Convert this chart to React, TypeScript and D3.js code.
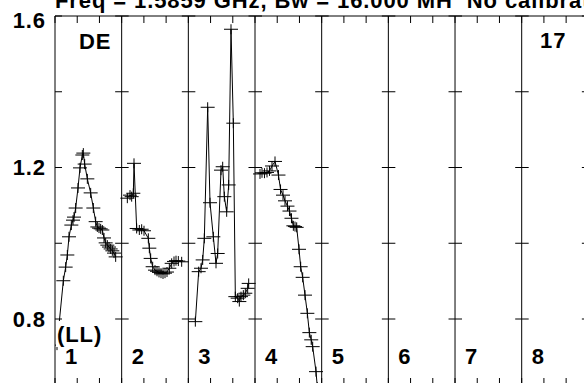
import React from 'react';
import * as d3 from 'd3';

const W = 584;
const H = 383;

const titleText = 'Freq = 1.5859 GHz, Bw = 16.000 MH  No calibration';
const sourceLabel = 'DE';
const scanLabel = '17';
const polLabel = '(LL)';
const panelLabels = ['1', '2', '3', '4', '5', '6', '7', '8'];
const yTicks = [0.8, 1.0, 1.2, 1.4, 1.6];
const yLabels = [0.8, 1.2, 1.6];

// position inside each panel (0..1) and measured value
const p1Pos = [0.03, 0.125, 0.16, 0.185, 0.21, 0.245, 0.27, 0.285, 0.31, 0.345, 0.375, 0.41, 0.425, 0.445, 0.485, 0.535, 0.575, 0.61, 0.635, 0.66, 0.685, 0.71, 0.735, 0.76, 0.785, 0.81, 0.835, 0.86, 0.885, 0.91];
const p1Val = [0.731, 0.901, 0.937, 0.969, 1.017, 1.048, 1.061, 1.069, 1.093, 1.146, 1.199, 1.233, 1.238, 1.209, 1.17, 1.133, 1.093, 1.057, 1.043, 1.04, 1.038, 1.035, 1.014, 1.001, 0.995, 0.99, 0.985, 0.98, 0.974, 0.964];

const p2Pos = [0.085, 0.125, 0.15, 0.175, 0.185, 0.225, 0.265, 0.3, 0.335, 0.4, 0.415, 0.435, 0.465, 0.5, 0.53, 0.56, 0.59, 0.62, 0.65, 0.68, 0.715, 0.75, 0.785, 0.815, 0.85, 0.9];
const p2Val = [1.119, 1.127, 1.123, 1.132, 1.211, 1.039, 1.035, 1.037, 1.033, 1.013, 0.987, 0.96, 0.938, 0.929, 0.926, 0.923, 0.921, 0.919, 0.921, 0.924, 0.934, 0.947, 0.952, 0.954, 0.953, 0.951];

const p3Pos = [0.105, 0.155, 0.19, 0.215, 0.24, 0.29, 0.325, 0.375, 0.415, 0.44, 0.49, 0.515, 0.54, 0.575, 0.605, 0.64, 0.675, 0.705, 0.74, 0.765, 0.79, 0.825, 0.855, 0.89, 0.905];
const p3Val = [0.793, 0.925, 0.934, 0.956, 1.013, 1.359, 1.107, 1.017, 0.947, 0.973, 1.193, 1.202, 1.123, 1.083, 1.154, 1.565, 1.317, 0.859, 0.855, 0.846, 0.859, 0.863, 0.868, 0.881, 0.894];

const p4Pos = [0.075, 0.105, 0.142, 0.18, 0.217, 0.255, 0.3, 0.352, 0.383, 0.42, 0.45, 0.487, 0.517, 0.547, 0.575, 0.6, 0.625, 0.66, 0.685, 0.715, 0.75, 0.785, 0.815, 0.843, 0.865, 0.915, 0.935];
const p4Val = [1.183, 1.186, 1.185, 1.187, 1.191, 1.204, 1.216, 1.18, 1.142, 1.127, 1.112, 1.098, 1.085, 1.066, 1.046, 1.044, 1.042, 0.984, 0.938, 0.91, 0.863, 0.815, 0.764, 0.745, 0.727, 0.661, 0.62];

const panelData = [
  { pos: p1Pos, val: p1Val },
  { pos: p2Pos, val: p2Val },
  { pos: p3Pos, val: p3Val },
  { pos: p4Pos, val: p4Val },
];

export default function App() {
  const left = 55;
  const top = 16;
  const bottom = 385;
  const panelW = 66.67;
  const nPanels = 8;

  const x = d3.scaleLinear().domain([0, nPanels]).range([left, left + panelW * nPanels]);
  const y = d3.scaleLinear().domain([0.8, 1.6]).range([319, top]);

  const font = "'Liberation Sans', Arial, sans-serif";
  const fs = 22;
  const ls = 0.9;
  const xTicks = d3.range(0, nPanels * 3 + 1).map(i => i / 3);

  const series = panelData.map((p, i) =>
    p.pos.map((f, j) => ({ x: i + f, v: p.val[j] }))
  );

  const line = d3.line<{ x: number; v: number }>()
    .x(d => x(d.x))
    .y(d => y(d.v));

  return (
    <svg width={W} height={H} style={{ position: 'absolute', left: 0, top: 0, background: '#fff' }}>
      <defs>
        <clipPath id="plot">
          <rect x={left} y={top} width={panelW * nPanels} height={bottom - top} />
        </clipPath>
      </defs>

      {/* title, cut off at the top like the original */}
      <text x={left} y={7.5} fontFamily={font} fontWeight="bold" fontSize={fs} letterSpacing={ls}
        style={{ whiteSpace: 'pre' }}>{titleText}</text>

      {/* frame */}
      <line x1={left} x2={x(nPanels)} y1={top} y2={top} stroke="#000" />
      <line x1={left} x2={x(nPanels)} y1={bottom} y2={bottom} stroke="#000" />
      {xTicks.map((t, i) => (
        <g key={i}>
          <line x1={x(t)} x2={x(t)} y1={top} y2={top + 7} stroke="#000" />
          <line x1={x(t)} x2={x(t)} y1={bottom - 7} y2={bottom} stroke="#000" />
        </g>
      ))}

      {/* panel dividers with value ticks */}
      {d3.range(0, nPanels + 1).map(i => (
        <g key={i}>
          <line x1={x(i)} x2={x(i)} y1={top} y2={bottom} stroke="#000" />
          {yTicks.map(v => (
            <line key={v} x1={i === 0 ? x(i) : x(i) - 6.5} x2={x(i) + 7} y1={y(v)} y2={y(v)} stroke="#000" />
          ))}
        </g>
      ))}

      {/* y labels */}
      {yLabels.map(v => (
        <text key={v} x={46} y={Math.max(y(v), 20)} dy="0.36em" textAnchor="end"
          fontFamily={font} fontWeight="bold" fontSize={fs} letterSpacing={ls}>
          {v.toFixed(1)}
        </text>
      ))}

      {/* data */}
      <g clipPath="url(#plot)">
        {series.map((s, i) => (
          <g key={i}>
            <path d={line(s) || ''} fill="none" stroke="#000" strokeWidth={1} />
            {s.map((d, j) => (
              <path key={j}
                d={`M${x(d.x) - 7},${y(d.v)}H${x(d.x) + 7}M${x(d.x)},${y(d.v) - 5}V${y(d.v) + 5}`}
                stroke="#000" strokeWidth={1} fill="none" />
            ))}
          </g>
        ))}
      </g>

      {/* labels */}
      <text x={79} y={49} fontFamily={font} fontWeight="bold" fontSize={fs} letterSpacing={ls}>{sourceLabel}</text>
      <text x={540} y={48} fontFamily={font} fontWeight="bold" fontSize={fs} letterSpacing={ls}>{scanLabel}</text>
      <rect x={56} y={321} width={48} height={26} fill="#fff" />
      <text x={57} y={341.5} fontFamily={font} fontWeight="bold" fontSize={fs} letterSpacing={ls}>{polLabel}</text>
      {panelLabels.map((l, i) => (
        <text key={l} x={x(i) + 10} y={364} fontFamily={font} fontWeight="bold" fontSize={fs}>{l}</text>
      ))}
    </svg>
  );
}
